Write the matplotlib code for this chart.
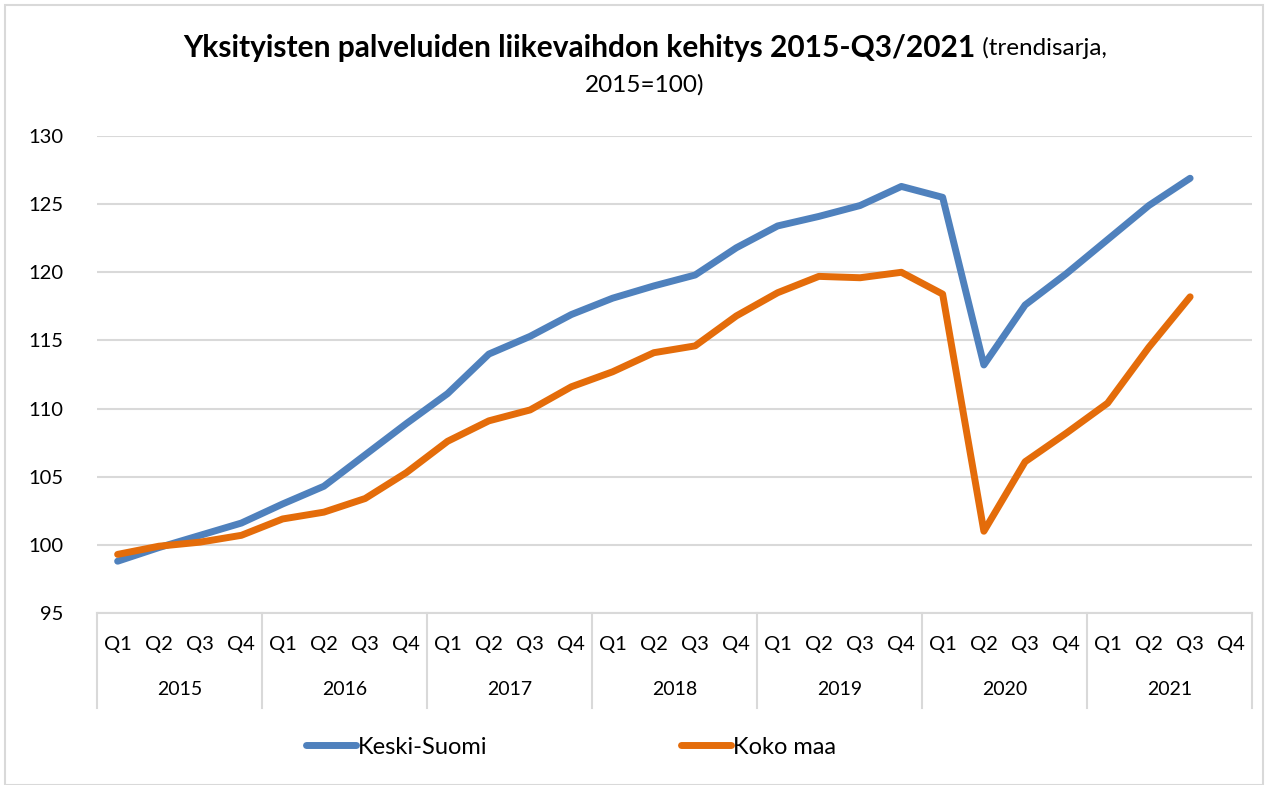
"""Yksityisten palveluiden liikevaihdon kehitys 2015-Q3/2021."""
import matplotlib.pyplot as plt
from matplotlib.patches import Rectangle
from matplotlib.transforms import blended_transform_factory

plt.rcParams["font.family"] = ["Lato", "DejaVu Sans"]

YEARS = ["2015", "2016", "2017", "2018", "2019", "2020", "2021"]
QUARTERS = ["Q1", "Q2", "Q3", "Q4"]

# trendisarja, 2015=100 (luettu kuvasta)
KESKI_SUOMI = [98.8, 99.8, 100.7, 101.6,
               103.0, 104.3, 106.6, 108.9,
               111.1, 114.0, 115.3, 116.9,
               118.1, 119.0, 119.8, 121.8,
               123.4, 124.1, 124.9, 126.3,
               125.5, 113.2, 117.6, 119.9,
               122.4, 124.9, 126.9]
KOKO_MAA = [99.3, 99.9, 100.2, 100.7,
            101.9, 102.4, 103.4, 105.3,
            107.6, 109.1, 109.9, 111.6,
            112.7, 114.1, 114.6, 116.8,
            118.5, 119.7, 119.6, 120.0,
            118.4, 101.0, 106.1, 108.2,
            110.4, 114.5, 118.2]

BLUE = "#4F81BD"
ORANGE = "#E46C0A"
GRID = "#D9D9D9"
W, H = 1268, 785

fig = plt.figure(figsize=(W / 100, H / 100), dpi=100)
ax = fig.add_axes([97 / W, 1 - 613 / H, (1252 - 97) / W, 477 / H])

x = list(range(len(KESKI_SUOMI)))
ax.plot(x, KESKI_SUOMI, color=BLUE, lw=5, solid_capstyle="round",
        solid_joinstyle="round", label="Keski-Suomi")
ax.plot(x, KOKO_MAA, color=ORANGE, lw=5, solid_capstyle="round",
        solid_joinstyle="round", label="Koko maa")

n_slots = len(YEARS) * len(QUARTERS)
ax.set_xlim(-0.5, n_slots - 0.5)
ax.set_ylim(95, 130)
ax.set_yticks(range(95, 131, 5))
ax.yaxis.grid(True, color=GRID, lw=1.5)
ax.set_axisbelow(True)
ax.tick_params(axis="y", length=0, pad=24, labelsize=14.5, labelcolor="#000000")
ax.set_xticks([])
for side in ["top", "right", "left"]:
    ax.spines[side].set_visible(False)
ax.spines["bottom"].set_color(GRID)
ax.spines["bottom"].set_linewidth(1.5)

# kategoriataulukko x-akselin alle
trans = blended_transform_factory(ax.transData, ax.transAxes)
for i in range(n_slots):
    ax.text(i, -0.067, QUARTERS[i % 4], transform=trans, ha="center",
            va="center", fontsize=14.5)
for j, year in enumerate(YEARS):
    ax.text(j * 4 + 1.5, -0.161, year, transform=trans, ha="center",
            va="center", fontsize=14)
    ax.plot([j * 4 - 0.5, j * 4 - 0.5], [0, -0.199], transform=trans,
            color=GRID, lw=1.5, clip_on=False)
ax.plot([n_slots - 0.5, n_slots - 0.5], [0, -0.199], transform=trans,
        color=GRID, lw=1.5, clip_on=False)

# otsikko: lihavoitu osa + tavallinen osa, keskitetty yhdessä
title = fig.text(0, 1 - 48 / H,
                 "Yksityisten palveluiden liikevaihdon kehitys 2015-Q3/2021",
                 fontsize=21.5, fontweight="bold", ha="left", va="center")
sub = fig.text(0, 1 - 48 / H, " (trendisarja,", fontsize=17.5,
               ha="left", va="center")
fig.canvas.draw()
renderer = fig.canvas.get_renderer()
w_bold = title.get_window_extent(renderer).width
w_sub = sub.get_window_extent(renderer).width
left = 645 - (w_bold + w_sub) / 2
title.set_x(left / W)
sub.set_x((left + w_bold) / W)
fig.text(645 / W, 1 - 85 / H, "2015=100)", fontsize=17.5,
         ha="center", va="center")

fig.legend(loc="center", bbox_to_anchor=(571 / W, 1 - 747 / H), ncol=2,
           frameon=False, fontsize=17, handlelength=2.1, handletextpad=0.1,
           columnspacing=8.2)

fig.patches.append(Rectangle((5 / W, 0), 1 - 10 / W, 1 - 5 / H,
                             transform=fig.transFigure, fill=False,
                             edgecolor=GRID, lw=1.5))

fig.savefig("out.png", dpi=100, facecolor="white")
